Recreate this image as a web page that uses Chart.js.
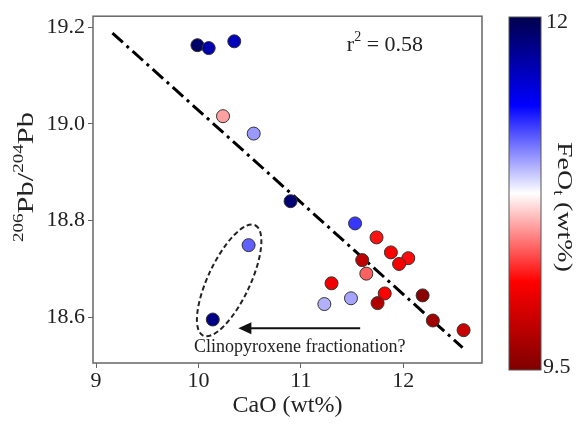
<!DOCTYPE html>
<html lang="en">
<head>
<meta charset="UTF-8">
<title>206Pb/204Pb vs CaO</title>
<script src="https://cdn.jsdelivr.net/npm/chart.js"></script>
<style>
  body { margin: 0; background: #fff; }
</style>
</head>
<body>
<canvas id="c" width="577" height="424"></canvas>
<script>
  // sample data
  var caO = [9.99, 10.10, 10.35, 10.24, 10.54, 10.90, 10.49, 10.14, 11.53, 11.74, 11.88, 12.05, 11.96, 11.60, 11.64, 11.30, 11.23, 11.49, 11.82, 11.75, 12.19, 12.29, 12.59];
  var pb = [19.163, 19.157, 19.171, 19.016, 18.980, 18.840, 18.749, 18.595, 18.794, 18.765, 18.734, 18.722, 18.710, 18.718, 18.690, 18.670, 18.627, 18.639, 18.649, 18.629, 18.645, 18.593, 18.573];
  var feo = [11.9, 11.65, 11.6, 10.52, 11.0, 11.87, 11.14, 11.8, 11.24, 10.17, 10.1, 10.15, 10.08, 9.81, 10.36, 10.05, 10.94, 10.97, 10.12, 9.74, 9.55, 9.66, 9.85];

  // regression line end points
  var fitCaO = [9.16, 12.58];
  var fitPb = [19.188, 18.537];

  var xTicks = [9, 10, 11, 12];
  var yTicks = [18.6, 18.8, 19.0, 19.2];
  var cbTicks = [9.5, 12];

  var serif = '"Liberation Serif", "DejaVu Serif", serif';
  var textColor = '#222';

  // matplotlib "seismic" reversed, 9.5 -> dark red, 12 -> dark blue
  var seismic = [[0, 0, 0.3], [0, 0, 1], [1, 1, 1], [1, 0, 0], [0.5, 0, 0]];
  function feoColor(v) {
    var t = 1 - (v - cbTicks[0]) / (cbTicks[1] - cbTicks[0]);
    t = Math.max(0, Math.min(1, t));
    var p = t * 4, i = Math.min(3, Math.floor(p)), f = p - i;
    var a = seismic[i], b = seismic[i + 1];
    var c = [0, 1, 2].map(function (k) { return Math.round(255 * (a[k] + (b[k] - a[k]) * f)); });
    return 'rgb(' + c.join(',') + ')';
  }

  var points = caO.map(function (x, i) { return { x: x, y: pb[i] }; });
  var fitPoints = fitCaO.map(function (x, i) { return { x: x, y: fitPb[i] }; });

  // draws a rotated label made of [text, size, shift] pieces, stretched along the text
  function rotatedLabel(ctx, parts, cx, cy, angle, stretch) {
    ctx.save();
    ctx.translate(cx, cy);
    ctx.rotate(angle);
    ctx.scale(stretch, 1);
    ctx.textAlign = 'left';
    ctx.textBaseline = 'middle';
    var total = 0;
    parts.forEach(function (p) { ctx.font = p[1] + 'px ' + serif; total += ctx.measureText(p[0]).width; });
    var px = -total / 2;
    parts.forEach(function (p) {
      ctx.font = p[1] + 'px ' + serif;
      ctx.fillText(p[0], px, p[2]);
      px += ctx.measureText(p[0]).width;
    });
    ctx.restore();
  }

  var extras = {
    id: 'extras',
    afterDraw: function (chart) {
      var ctx = chart.ctx, a = chart.chartArea;
      var xs = chart.scales.x, ys = chart.scales.y;
      ctx.save();

      // frame
      ctx.strokeStyle = '#666';
      ctx.lineWidth = 1.5;
      ctx.strokeRect(a.left, a.top, a.right - a.left, a.bottom - a.top);

      // dashed ellipse round the two low-CaO points
      ctx.strokeStyle = '#222';
      ctx.lineWidth = 2;
      ctx.setLineDash([5, 3]);
      ctx.beginPath();
      ctx.ellipse(xs.getPixelForValue(10.30), ys.getPixelForValue(18.676), 61, 21, -1.13, 0, Math.PI * 2);
      ctx.stroke();
      ctx.setLineDash([]);

      // arrow
      var ay = ys.getPixelForValue(18.577);
      var x0 = xs.getPixelForValue(11.58), x1 = xs.getPixelForValue(10.39);
      ctx.strokeStyle = '#111';
      ctx.fillStyle = '#111';
      ctx.lineWidth = 2;
      ctx.beginPath();
      ctx.moveTo(x0, ay);
      ctx.lineTo(x1 + 10, ay);
      ctx.stroke();
      ctx.beginPath();
      ctx.moveTo(x1, ay);
      ctx.lineTo(x1 + 13, ay - 6);
      ctx.lineTo(x1 + 13, ay + 6);
      ctx.closePath();
      ctx.fill();

      // annotation texts
      ctx.fillStyle = textColor;
      ctx.textBaseline = 'middle';
      ctx.textAlign = 'center';
      ctx.font = '18px ' + serif;
      ctx.fillText('Clinopyroxene fractionation?', xs.getPixelForValue(10.99), ys.getPixelForValue(18.537));

      ctx.textAlign = 'left';
      var rx = xs.getPixelForValue(11.45), ry = ys.getPixelForValue(19.163);
      ctx.font = '22px ' + serif;
      ctx.fillText('r', rx, ry);
      var w = ctx.measureText('r').width;
      ctx.font = '14px ' + serif;
      ctx.fillText('2', rx + w, ry - 8);
      w += ctx.measureText('2').width;
      ctx.font = '22px ' + serif;
      ctx.fillText(' = 0.58', rx + w, ry);

      // y axis title with superscripts
      rotatedLabel(ctx, [['206', 15, -8], ['Pb/', 24, 0], ['204', 15, -8], ['Pb', 24, 0]], 27, 177, -Math.PI / 2, 1.27);

      // colour bar
      var cbL = 509, cbR = 541, cbT = 17, cbB = 370;
      var grad = ctx.createLinearGradient(0, cbB, 0, cbT);
      for (var s = 0; s <= 20; s++) {
        var v = cbTicks[0] + (cbTicks[1] - cbTicks[0]) * s / 20;
        grad.addColorStop(s / 20, feoColor(v));
      }
      ctx.fillStyle = grad;
      ctx.fillRect(cbL, cbT, cbR - cbL, cbB - cbT);
      ctx.strokeStyle = '#555';
      ctx.lineWidth = 1;
      ctx.strokeRect(cbL, cbT, cbR - cbL, cbB - cbT);

      ctx.fillStyle = textColor;
      ctx.font = '22px ' + serif;
      ctx.textAlign = 'left';
      ctx.textBaseline = 'middle';
      ctx.fillText(String(cbTicks[1]), 546, cbT + 5);
      ctx.fillText(String(cbTicks[0]), 543, cbB - 3);

      // colour bar label, reading downwards
      rotatedLabel(ctx, [['FeO', 22, 0], ['t', 14, 6], [' (wt%)', 22, 0]], 564, 207, Math.PI / 2, 1.27);

      ctx.restore();
    }
  };

  new Chart(document.getElementById('c'), {
    type: 'scatter',
    data: {
      datasets: [{
        data: points,
        backgroundColor: feo.map(feoColor),
        borderColor: '#333',
        borderWidth: 1,
        pointRadius: 6.5,
        order: 0
      }, {
        type: 'line',
        data: fitPoints,
        borderColor: '#000',
        borderWidth: 3,
        borderDash: [14, 5, 3, 5],
        pointRadius: 0,
        fill: false,
        order: 1
      }]
    },
    options: {
      responsive: false,
      animation: false,
      layout: { padding: { left: 0, right: 95, top: 16, bottom: 0 } },
      plugins: { legend: { display: false }, tooltip: { enabled: false } },
      scales: {
        x: {
          type: 'linear',
          min: 8.97,
          max: 12.77,
          afterBuildTicks: function (s) { s.ticks = xTicks.map(function (v) { return { value: v }; }); },
          afterFit: function (s) { s.height = 61; },
          grid: { drawOnChartArea: false, tickLength: 5, color: '#666' },
          border: { display: false },
          ticks: { color: textColor, font: { family: serif, size: 22 }, padding: 0, maxRotation: 0 },
          title: { display: true, text: 'CaO (wt%)', color: textColor, font: { family: serif, size: 24 }, padding: { top: 0 } }
        },
        y: {
          type: 'linear',
          min: 18.505,
          max: 19.223,
          afterBuildTicks: function (s) { s.ticks = yTicks.map(function (v) { return { value: v }; }); },
          afterFit: function (s) { s.width = 93; },
          grid: { drawOnChartArea: false, tickLength: 5, color: '#666' },
          border: { display: false },
          ticks: {
            color: textColor, font: { family: serif, size: 22 }, padding: 3,
            callback: function (v) { return v.toFixed(1); }
          }
        }
      }
    },
    plugins: [extras]
  });
</script>
</body>
</html>
